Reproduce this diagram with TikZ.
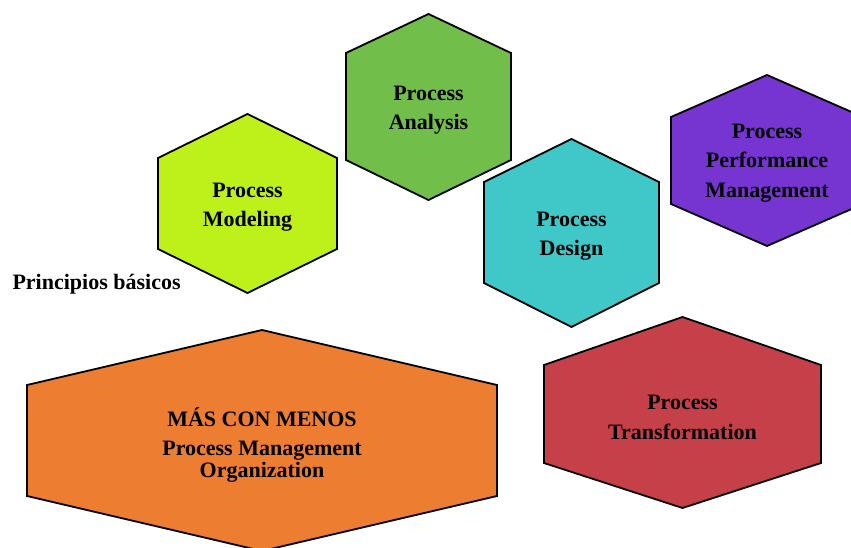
\documentclass[tikz,border=0pt]{standalone}
\usepackage{fontspec}
\setmainfont{Liberation Serif}
\usepackage{tikz}
\definecolor{lime}{RGB}{190,240,25}
\definecolor{verde}{RGB}{114,190,75}
\definecolor{turquesa}{RGB}{64,199,200}
\definecolor{violeta}{RGB}{118,52,208}
\definecolor{rojo}{RGB}{198,64,74}
\definecolor{naranja}{RGB}{236,125,49}
\tikzset{hexa/.style={draw=black,line width=1.8pt,line join=miter},
  texte/.style={font=\fontsize{22}{29.5}\selectfont\bfseries,align=center,text=black}}

\begin{document}
\begin{tikzpicture}[x=1pt,y=-1pt]
\clip (0,0) rectangle (851,548);
% hexagones
\draw [hexa,fill=lime] (247.5,114)--(337,158)--(337,249)--(247.5,293)--(158,249)--(158,158)--cycle;
\draw [hexa,fill=verde] (428.5,14)--(511,53)--(511,160)--(428.5,200)--(346,160)--(346,53)--cycle;
\draw [hexa,fill=turquesa] (571.5,139)--(659,182)--(659,283)--(571.5,327)--(484,283)--(484,182)--cycle;
\draw [hexa,fill=violeta] (767,75)--(863,117)--(863,204)--(767,246)--(671,204)--(671,117)--cycle;
\draw [hexa,fill=rojo] (682.5,317)--(821,365)--(821,463)--(682.5,508)--(544,463)--(544,365)--cycle;
\draw [hexa,fill=naranja] (262,330)--(497,385)--(497,496)--(262,551)--(27,496)--(27,385)--cycle;
% textes
\node [texte] (modeling) at (247.5,207) {Process\\Modeling};
\node [texte] (analysis) at (428.5,110) {Process\\Analysis};
\node [texte] (design) at (571.5,236) {Process\\Design};
\node [texte] (performance) at (767,163) {Process\\Performance\\Management};
\node [texte] (transformation) at (682.5,417.5) {Process\\Transformation};
\node [texte] (pmo) at (262,445) {MÁS CON MENOS\\Process Management\\[-7.5pt]Organization};
\node [texte,anchor=west] (principios) at (9,284) {Principios básicos};
\end{tikzpicture}
\end{document}
